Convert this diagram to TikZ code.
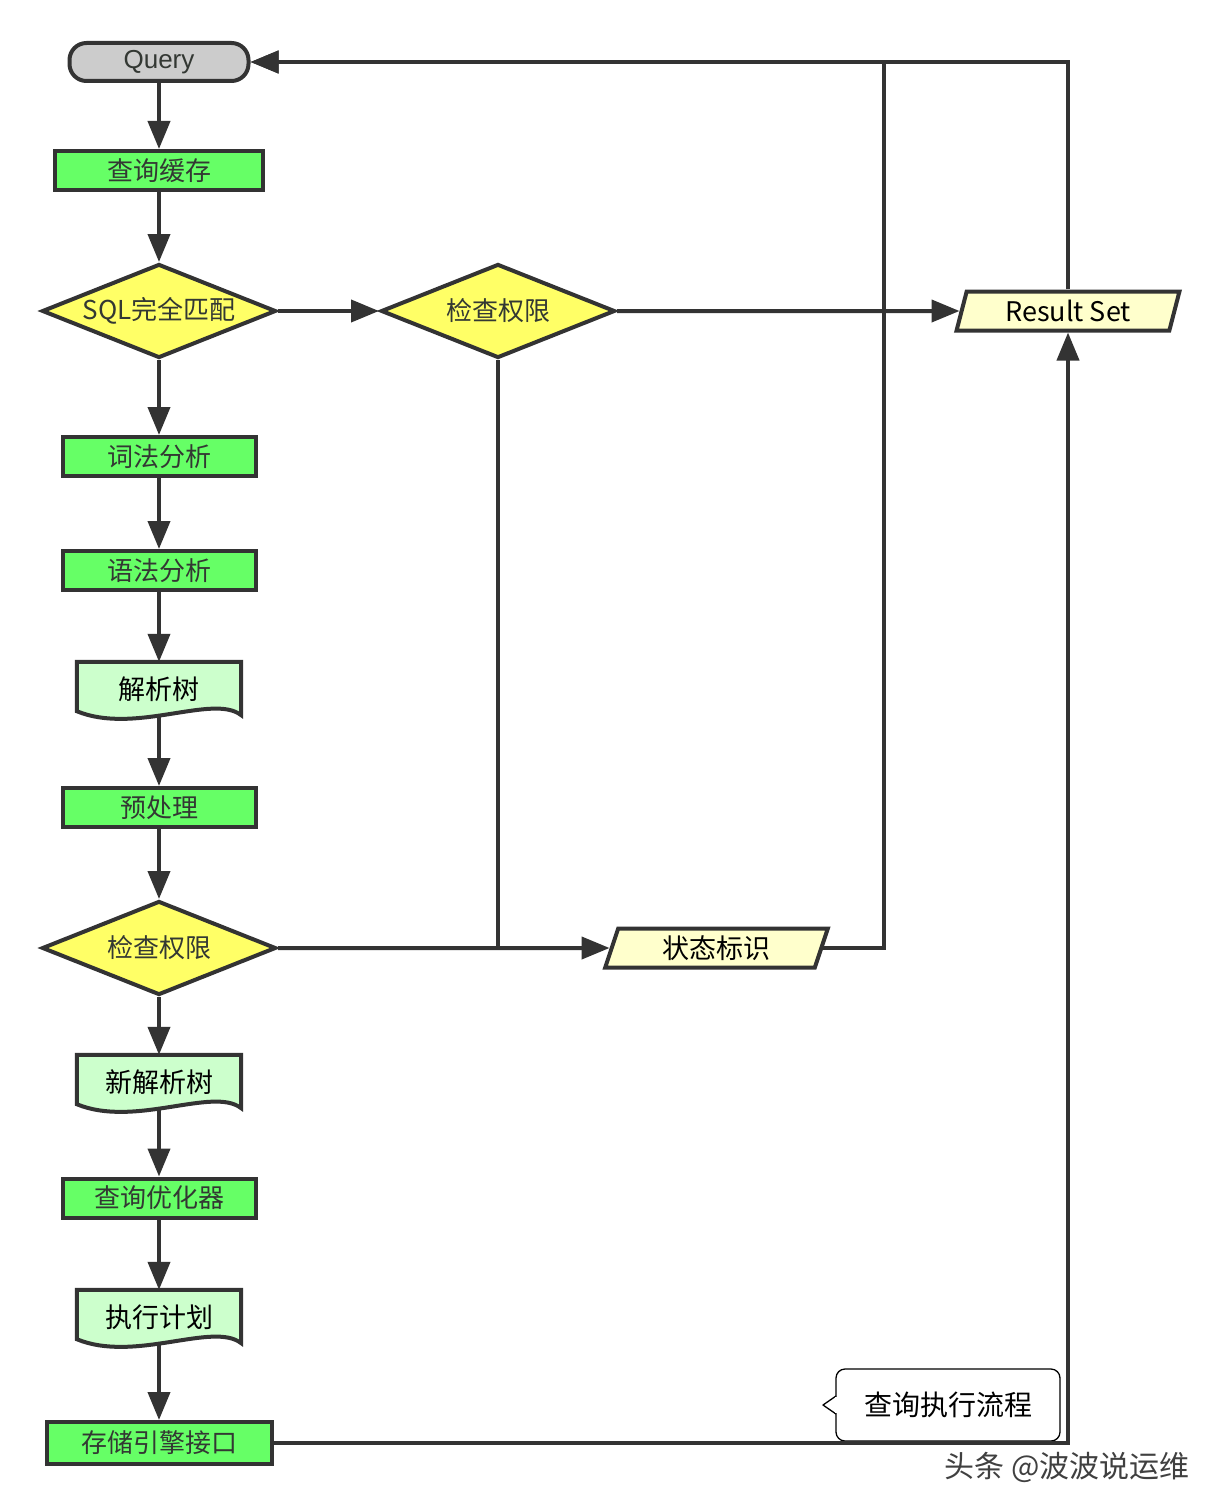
\documentclass[tikz,border=0pt]{standalone}
\usepackage{fontspec}
\setmainfont{Noto Sans CJK SC}
\newfontfamily\queryfont{Liberation Sans}
\usetikzlibrary{shapes.geometric,arrows.meta,backgrounds}

\definecolor[named]{drawColor}{rgb}{0.20,0.20,0.20}
\definecolor[named]{textColor}{rgb}{0.20,0.22,0.20}
\definecolor[named]{procFill}{rgb}{0.40,1.00,0.40}
\definecolor[named]{docFill}{rgb}{0.80,1.00,0.80}
\definecolor[named]{decFill}{rgb}{1.00,1.00,0.40}
\definecolor[named]{ioFill}{rgb}{1.00,1.00,0.80}
\definecolor[named]{queryFill}{rgb}{0.80,0.80,0.80}

\tikzset{
  procbox/.style={draw=drawColor,line width=4pt,fill=procFill,text=textColor,
    font=\fontsize{26pt}{30pt}\selectfont,inner sep=0pt,
    minimum width=193pt,minimum height=39pt},
  docbox/.style={inner sep=0pt,text=black,font=\fontsize{27pt}{31pt}\selectfont,
    minimum width=164pt,minimum height=54pt},
  decbox/.style={diamond,draw=drawColor,line width=4pt,fill=decFill,text=textColor,
    font=\fontsize{26pt}{30pt}\selectfont,inner sep=0pt,aspect=2.43,
    minimum width=234pt,minimum height=94pt},
  iobox/.style={trapezium,trapezium left angle=74,trapezium right angle=106,
    trapezium stretches=true,draw=drawColor,line width=4pt,fill=ioFill,text=black,
    font=\fontsize{27pt}{31pt}\selectfont,inner sep=0pt,
    minimum width=223pt,minimum height=39pt},
  docline/.style={draw=drawColor,line width=4pt,fill=docFill},
  flow/.style={draw=drawColor,line width=4pt,-{Triangle[length=28pt,width=22pt]}},
  link/.style={draw=drawColor,line width=4pt},
  notebox/.style={draw=black,line width=1.3pt,fill=white,rounded corners=9pt,
    font=\fontsize{28pt}{32pt}\selectfont,inner sep=0pt,outer sep=0pt,
    minimum width=224pt,minimum height=72pt}
}

% wavy bottom of a document node
\newcommand{\docwave}[1]{%
  \path[docline] (#1.north west) -- (#1.north east) --
    ([shift={(0,-1)}]#1.south east) ..
    controls ([shift={(-28,-23)}]#1.south east) and ([shift={(58,19)}]#1.south west) ..
    ([shift={(0,-5)}]#1.south west) -- cycle;}

\begin{document}
\begin{tikzpicture}[x=1pt,y=-1pt]
\begin{scope}[on background layer]
\path[use as bounding box,fill=white] (0,0) rectangle (1223,1509);
\end{scope}

\node[draw=drawColor,line width=4pt,fill=queryFill,rounded corners=17pt,
  minimum width=179pt,minimum height=38pt,inner sep=0pt,text=textColor,
  font=\queryfont\fontsize{26pt}{30pt}\selectfont] (query) at (159,62) {Query};

\node[procbox,minimum width=208pt] (cache) at (159,170.5) {查询缓存};
\node[decbox] (match) at (159,311) {SQL完全匹配};
\node[decbox] (chkA) at (498,311) {检查权限};
\node[iobox] (result) at (1068,311) {Result Set};

\node[procbox] (lex) at (159,456.5) {词法分析};
\node[procbox] (syn) at (159,570.5) {语法分析};
\node[docbox] (tree) at (159,689) {解析树};
\node[procbox] (prep) at (159,807.5) {预处理};
\node[decbox] (chkB) at (159,948) {检查权限};
\node[iobox] (status) at (716.5,948) {状态标识};
\node[docbox] (newtree) at (159,1082) {新解析树};
\node[procbox] (opt) at (159,1198) {查询优化器};
\node[docbox] (plan) at (159,1317) {执行计划};
\node[procbox,minimum width=225pt,minimum height=42pt] (storage) at (159,1443) {存储引擎接口};

\begin{scope}[on background layer]
\docwave{tree}
\docwave{newtree}
\docwave{plan}
\end{scope}

% callout
\node[notebox] (note) at (948,1405) {查询执行流程};
\path[draw=black,line width=1.3pt,fill=white,line join=round]
  ([yshift=-9pt]note.west) -- ([xshift=-13pt]note.west) -- ([yshift=9pt]note.west);
\path[draw=white,line width=2.5pt] ([yshift=-8pt]note.west) -- ([yshift=8pt]note.west);

\node[text=black!75,font=\fontsize{30pt}{34pt}\selectfont] (mark) at (1067,1467) {头条 @波波说运维};

\coordinate (joinB) at (498,948);
\coordinate (backbus) at (884,62);

\draw[flow] (query) -- (cache);
\draw[flow] (cache) -- (match);
\draw[flow] (match) -- (chkA);
\draw[flow] (chkA) -- (result);
\draw[link] (chkA) -- (joinB);
\draw[flow] (match) -- (lex);
\draw[flow] (lex) -- (syn);
\draw[flow] (syn) -- (tree);
\draw[flow] (tree) -- (prep);
\draw[flow] (prep) -- (chkB);
\draw[flow] (chkB) -- (status);
\draw[flow] (chkB) -- (newtree);
\draw[flow] (newtree) -- (opt);
\draw[flow] (opt) -- (plan);
\draw[flow] (plan) -- (storage);
\draw[flow] (status) -| (backbus) -- (query);
\draw[flow] (result) |- (query);
\draw[flow] (storage) -| (result);
\end{tikzpicture}
\end{document}
